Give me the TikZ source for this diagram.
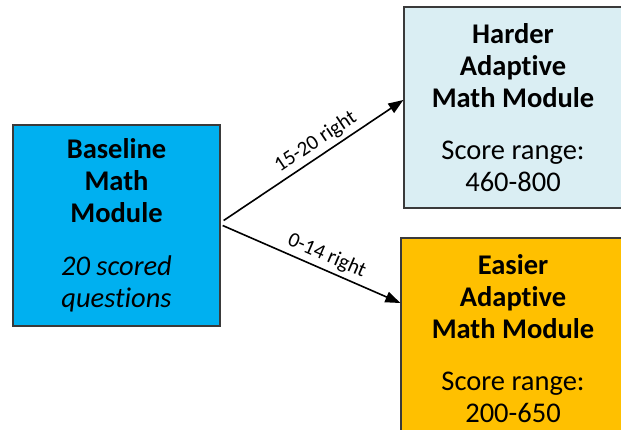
\documentclass[tikz,border=0pt]{standalone}
\usepackage{fontspec}
\setmainfont{Carlito}[Ligatures=NoCommon]
\usetikzlibrary{arrows.meta}
\definecolor{basefill}{HTML}{00B0F0}
\definecolor{hardfill}{HTML}{DAEEF3}
\definecolor{easyfill}{HTML}{FFC000}
\definecolor{edge}{HTML}{3A3A3A}
\tikzset{
  module/.style={draw=edge, line width=1.3pt, align=center, inner sep=0pt,
    font=\fontsize{28.5}{32}\selectfont},
  route/.style={line width=1.6pt, -{Triangle[length=15pt,width=11pt]}},
  routelabel/.style={sloped, above, pos=0.555, inner sep=4pt,
    font=\fontsize{21}{24}\selectfont}
}
\begin{document}
\begin{tikzpicture}[x=1pt,y=1pt]
\useasboundingbox (0,0) rectangle (621,429);
\clip (0,0) rectangle (621,429);
% baseline module
\node[module, fill=basefill, minimum width=207pt, minimum height=201pt]
  (B) at (116.5,203.5)
  {\textbf{Baseline}\\ \textbf{Math}\\ \textbf{Module}\\[21pt] \textit{20 scored}\\ \textit{questions}};
% harder adaptive module
\node[module, fill=hardfill, minimum width=218pt, minimum height=201pt]
  (H) at (513,321.5)
  {\textbf{Harder}\\ \textbf{Adaptive}\\ \textbf{Math Module}\\[20pt] Score range:\\ 460-800};
% easier adaptive module
\node[module, fill=easyfill, minimum width=224pt, minimum height=201pt]
  (E) at (513,90.5)
  {\textbf{Easier}\\ \textbf{Adaptive}\\ \textbf{Math Module}\\[20pt] Score range:\\ 200-650};
% routing arrows
\draw[route] ([xshift=3pt,yshift=5pt]B.east) -- ([yshift=7.5pt]H.west)
  node[routelabel] {15-20 right};
\draw[route] ([xshift=2pt,yshift=0pt]B.east) -- ([yshift=35.5pt]E.west)
  node[routelabel] {0-14 right};
\end{tikzpicture}
\end{document}
